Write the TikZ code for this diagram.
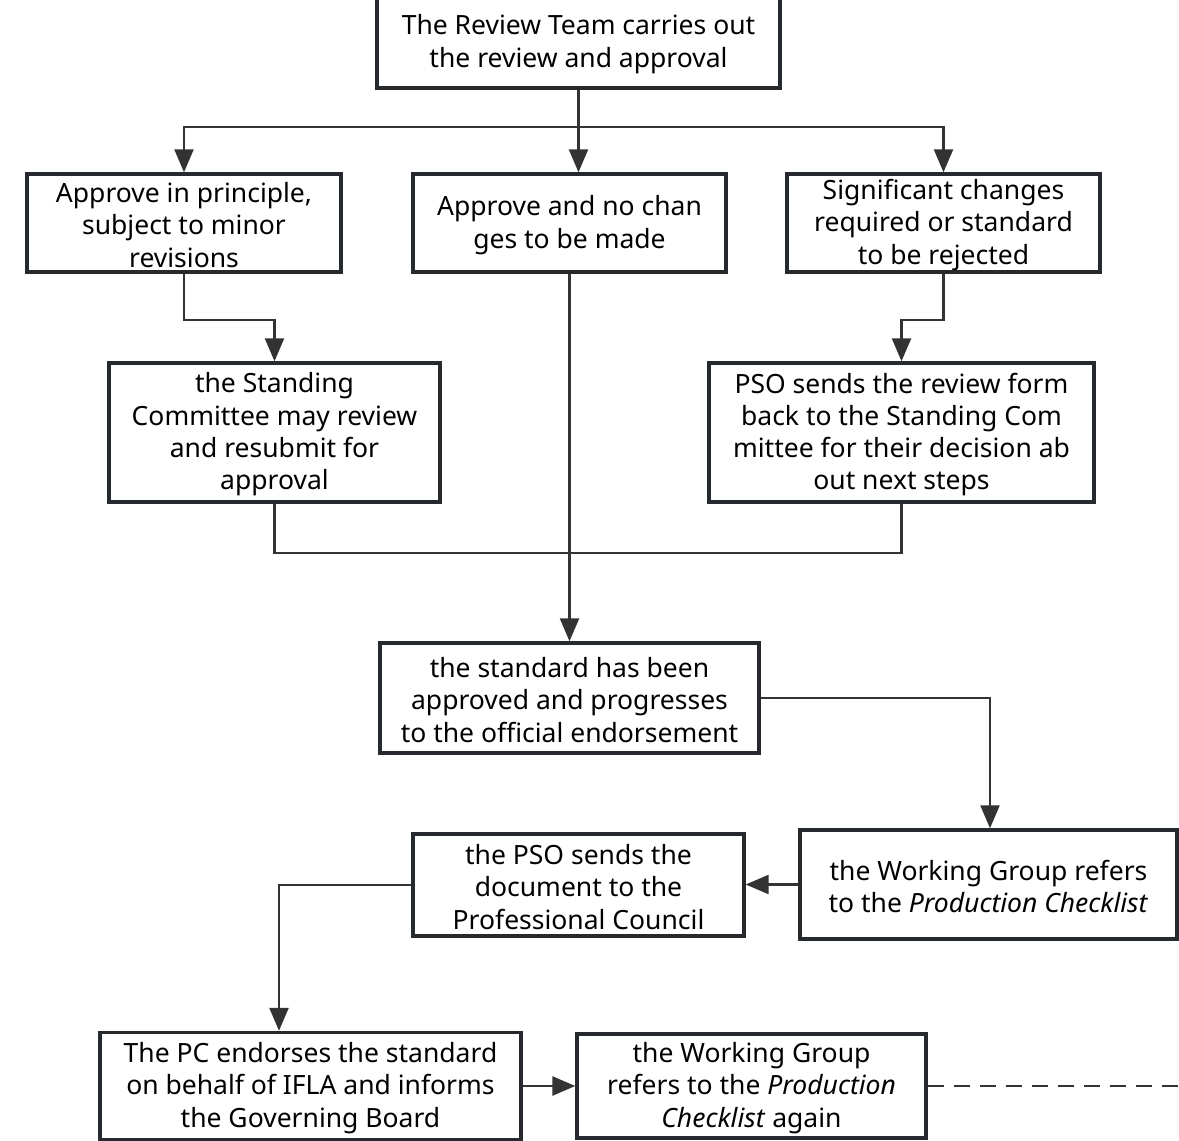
\documentclass[tikz,border=0pt]{standalone}
\usepackage{fontspec}
\setmainfont{Noto Sans}
\usetikzlibrary{arrows.meta}
\definecolor{boxline}{HTML}{262A2F}
\definecolor{conline}{HTML}{333333}
\tikzset{
  box/.style={draw=boxline, line width=3.4pt, fill=white, inner sep=0pt},
  txt/.style={align=center, inner sep=0pt, yshift=-2pt,
    font=\fontsize{26.5}{32.3}\selectfont, text=black},
  con/.style={draw=conline, line width=2.4pt},
  arr/.style={con, -{Triangle[length=23pt,width=19pt]}},
}
\begin{document}
\begin{tikzpicture}[x=1pt,y=-1pt]
\useasboundingbox[fill=white] (0,0) rectangle (1179,1141);
% boxes
\node[box, minimum width=403pt, minimum height=92pt] (T) at (578.5,42) {};
\node[box, minimum width=314pt, minimum height=98pt] (A) at (184,223) {};
\node[box, minimum width=313pt, minimum height=98pt] (B) at (569.5,223) {};
\node[box, minimum width=313pt, minimum height=98pt] (C) at (943.5,223) {};
\node[box, minimum width=331pt, minimum height=139pt] (D) at (274.5,432.5) {};
\node[box, minimum width=385pt, minimum height=139pt] (F) at (901.5,432.5) {};
\node[box, minimum width=379pt, minimum height=110pt] (E) at (569.5,698) {};
\node[box, minimum width=377pt, minimum height=109pt] (G) at (988.5,884.5) {};
\node[box, minimum width=331pt, minimum height=102pt] (H) at (578.5,885) {};
\node[box, minimum width=421pt, minimum height=107pt] (I) at (310.5,1086) {};
\node[box, minimum width=349pt, minimum height=104pt] (J) at (751.5,1086) {};
% texts
\node[txt] (Tt) at (T) {The Review Team carries out\\the review and approval};
\node[txt] (At) at (A) {Approve in principle,\\subject to minor\\revisions};
\node[txt] (Bt) at (B) {Approve and no chan\\ges to be made};
\node[txt] (Ct) at (C) {Significant changes\\required or standard\\to be rejected};
\node[txt] (Dt) at (D) {the Standing\\Committee may review\\and resubmit for\\approval};
\node[txt] (Ft) at (F) {PSO sends the review form\\back to the Standing Com\\mittee for their decision ab\\out next steps};
\node[txt] (Et) at (E) {the standard has been\\approved and progresses\\to the official endorsement};
\node[txt] (Gt) at (G) {the Working Group refers\\to the \textit{Production Checklist}};
\node[txt] (Ht) at (H) {the PSO sends the\\document to the\\Professional Council};
\node[txt] (It) at (I) {The PC endorses the standard\\on behalf of IFLA and informs\\the Governing Board};
\node[txt] (Jt) at (J) {the Working Group\\refers to the \textit{Production}\\\textit{Checklist} again};
\coordinate (br) at (578.5,127);
\coordinate (jn) at (569.5,553);
\coordinate (dend) at (1182,1086);
% connectors
\draw[con] (T.south) -- (br);
\draw[arr] (br) -| (A.north);
\draw[arr] (br) -- (br |- B.north);
\draw[arr] (br) -| (C.north);
\draw[arr] (A.south) -- ++(0,46) -| (D.north);
\draw[arr] (C.south) -- ++(0,46) -| (F.north);
\draw[arr] (B.south) -- (E.north);
\draw[con] (D.south) |- (jn);
\draw[con] (F.south) |- (jn);
\draw[arr] (E.east) -| ([xshift=1.5pt]G.north);
\draw[arr] (G.west) -- (G.west -| H.east);
\draw[arr] (H.west) -| ([xshift=-31.5pt]I.north);
\draw[arr] (I.east) -- (I.east -| J.west);
\draw[con, dash pattern=on 16pt off 10pt] (J.east) -- (dend);
\end{tikzpicture}
\end{document}
